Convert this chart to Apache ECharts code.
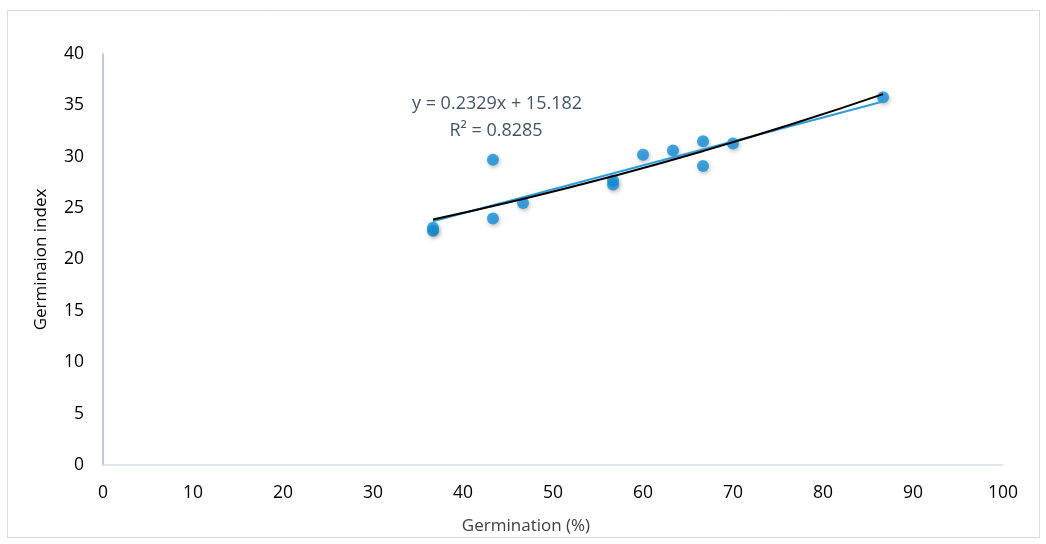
<!DOCTYPE html>
<html>
<head>
<meta charset="utf-8">
<script src="https://cdn.jsdelivr.net/npm/echarts@6/dist/echarts.min.js"></script>
<style>
html,body{margin:0;padding:0;background:#fff;}
#chart{width:1046px;height:544px;}
</style>
</head>
<body>
<div id="chart"></div>
<script>
// Observed data (Germination %, Germination index)
const germination = [36.67, 36.67, 43.33, 43.33, 46.67, 56.67, 56.67, 60.0, 63.33, 66.67, 66.67, 70.0, 86.67];
const germIndex   = [22.8, 23.1, 29.7, 24.0, 25.5, 27.7, 27.3, 30.2, 30.6, 31.5, 29.1, 31.3, 35.8];
// Linear trendline endpoints (y = 0.2329x + 15.182)
const linearX = [36.67, 86.67];
const linearY = [23.72, 35.37];
// Black (polynomial) trendline
const polyX = [36.67, 46.67, 56.67, 66.67, 76.67, 86.67];
const polyY = [23.9, 25.89, 28.11, 30.55, 33.21, 36.1];
const xTicks = [0, 10, 20, 30, 40, 50, 60, 70, 80, 90, 100];
const yTicks = [0, 5, 10, 15, 20, 25, 30, 35, 40];
const equationText = 'y = 0.2329x + 15.182';
const r2Text = 'R² = 0.8285';
const xTitle = 'Germination (%)';
const yTitle = 'Germinaion index';

const font = 'Open Sans';
const chart = echarts.init(document.getElementById('chart'));
chart.setOption({
  animation: false,
  backgroundColor: '#fff',
  grid: { left: 103, right: 43, top: 54, bottom: 79 },
  xAxis: {
    type: 'value', min: xTicks[0], max: xTicks[xTicks.length - 1], interval: 10,
    axisLine: { show: true, lineStyle: { color: '#D9DEE6', width: 1.5 } },
    axisTick: { show: false },
    splitLine: { show: false },
    axisLabel: { color: '#000', fontSize: 17.5, fontFamily: font, margin: 19 }
  },
  yAxis: {
    type: 'value', min: yTicks[0], max: yTicks[yTicks.length - 1], interval: 5,
    name: yTitle, nameLocation: 'middle', nameGap: 53, nameRotate: 90,
    nameTextStyle: { color: '#000', fontSize: 17, fontFamily: font },
    axisLine: { show: true, lineStyle: { color: '#A9BACB', width: 1.5 } },
    axisTick: { show: false },
    splitLine: { show: false },
    axisLabel: { color: '#000', fontSize: 17.5, fontFamily: font, margin: 19 }
  },
  graphic: [
    { type: 'rect', shape: { x: 7.5, y: 10.5, width: 1032, height: 527 },
      style: { fill: 'none', stroke: '#D9D9D9', lineWidth: 1 }, silent: true, z: -1 },
    { type: 'text', x: 497, y: 104, style: { text: equationText, fill: '#44546A', font: '18px "Open Sans"', textAlign: 'center', textVerticalAlign: 'middle' } },
    { type: 'text', x: 496, y: 131, style: { text: r2Text, fill: '#44546A', font: '18px "Open Sans"', textAlign: 'center', textVerticalAlign: 'middle' } },
    { type: 'text', x: 526, y: 526, style: { text: xTitle, fill: '#404040', font: '17px "Open Sans"', textAlign: 'center', textVerticalAlign: 'middle' } }
  ],
  series: [
    {
      type: 'scatter',
      data: germination.map((x, i) => [x, germIndex[i]]),
      symbolSize: 12,
      itemStyle: { color: '#138FD9', shadowBlur: 4, shadowColor: 'rgba(0,0,0,0.3)', shadowOffsetX: 1, shadowOffsetY: 2 },
      z: 2
    },
    {
      type: 'line',
      data: linearX.map((x, i) => [x, linearY[i]]),
      symbol: 'none',
      lineStyle: { color: '#2E9BDA', width: 2 },
      z: 3
    },
    {
      type: 'line',
      data: polyX.map((x, i) => [x, polyY[i]]),
      symbol: 'none', smooth: true,
      lineStyle: { color: '#000', width: 2 },
      z: 4
    }
  ]
});
</script>
</body>
</html>
